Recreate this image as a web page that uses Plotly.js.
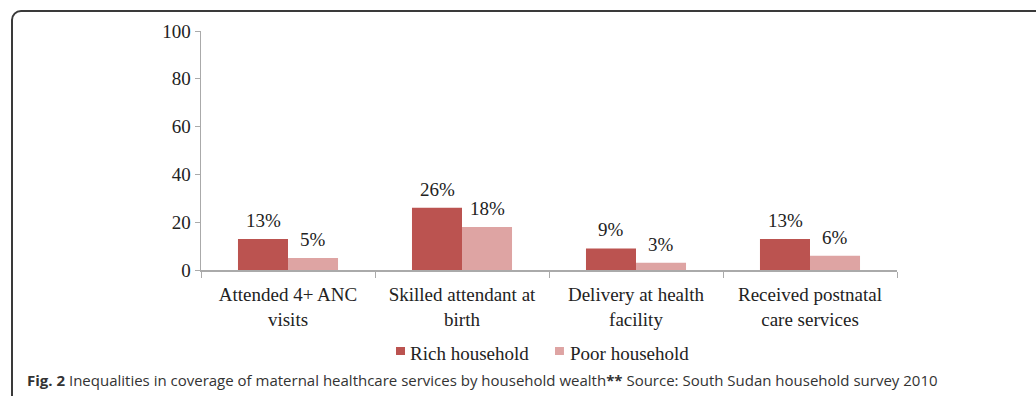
<!DOCTYPE html>
<html>
<head>
<meta charset="utf-8">
<script src="https://cdn.plot.ly/plotly-3.0.1.min.js"></script>
<style>
  html, body { margin:0; padding:0; background:#fff; overflow:hidden; }
  #frame { position:absolute; left:11px; top:10px; width:1100px; height:500px; border:2px solid #3a3a3a; border-radius:10px; box-sizing:border-box; }
  #chart { position:absolute; left:0; top:0; width:1036px; height:396px; }
</style>
</head>
<body>
<div id="frame"></div>
<div id="chart"></div>
<script>
const categories = ["Attended 4+ ANC<br>visits", "Skilled attendant at<br>birth", "Delivery at health<br>facility", "Received postnatal<br>care services"];
const richValues = [13, 26, 9, 13];
const poorValues = [5, 18, 3, 6];
const seriesNames = ["Rich household", "Poor household"];
const yTicks = [0, 20, 40, 60, 80, 100];
const captionText = "<b>Fig. 2</b> Inequalities in coverage of maternal healthcare services by household wealth<b>**</b> Source: South Sudan household survey 2010";

const seriesColors = ["#bb5350", "#dea4a3"];
const serif = "Liberation Serif, Times New Roman, serif";

const traces = [
  { type: "bar", name: seriesNames[0], x: categories, y: richValues, marker: { color: seriesColors[0] }, hoverinfo: "none", showlegend: false },
  { type: "bar", name: seriesNames[1], x: categories, y: poorValues, marker: { color: seriesColors[1] }, hoverinfo: "none", showlegend: false }
];

const annotations = [];
categories.forEach((c, i) => {
  annotations.push({ x: c, y: richValues[i], xref: "x", yref: "y", text: richValues[i] + "%", showarrow: false,
    xshift: -25, yanchor: "bottom", yshift: 6, font: { family: serif, size: 19, color: "#222" } });
  annotations.push({ x: c, y: poorValues[i], xref: "x", yref: "y", text: poorValues[i] + "%", showarrow: false,
    xshift: 25, yanchor: "bottom", yshift: 6, font: { family: serif, size: 19, color: "#222" } });
});
annotations.push({ xref: "paper", yref: "paper", x: -0.2529, y: -0.46, xanchor: "left", yanchor: "middle",
  text: captionText, showarrow: false, font: { family: "Open Sans, sans-serif", size: 15, color: "#333" } });

// manual legend (small squares close to the labels, as in the reference)
const legendSquareX = [0.2802, 0.5086];
const legendTextX = [0.2974, 0.5273];
const shapes = [];
seriesNames.forEach((n, i) => {
  shapes.push({ type: "rect", xref: "paper", yref: "paper", x0: legendSquareX[i], x1: legendSquareX[i] + 0.0129,
    y0: -0.3556, y1: -0.3222, fillcolor: seriesColors[i], line: { width: 0 } });
  annotations.push({ xref: "paper", yref: "paper", x: legendTextX[i], y: -0.3473, xanchor: "left", yanchor: "middle",
    text: n, showarrow: false, font: { family: serif, size: 19, color: "#222" } });
});

const layout = {
  width: 1036, height: 396,
  margin: { l: 201, r: 139, t: 31, b: 126 },
  paper_bgcolor: "rgba(0,0,0,0)", plot_bgcolor: "rgba(0,0,0,0)",
  barmode: "group", bargap: 0.425, bargroupgap: 0,
  showlegend: false,
  xaxis: { showline: true, linecolor: "#aaaaaa", linewidth: 1.5, ticks: "outside", tickson: "boundaries",
    ticklen: 6, tickcolor: "#aaaaaa", ticklabelstandoff: 7, tickfont: { family: serif, size: 19, color: "#222" }, showgrid: false, fixedrange: true },
  yaxis: { range: [0, 100], tickvals: yTicks, showline: true, linecolor: "#aaaaaa", linewidth: 1.5, ticks: "outside",
    ticklen: 5, tickcolor: "#aaaaaa", tickfont: { family: serif, size: 19, color: "#222" }, showgrid: false, zeroline: false, fixedrange: true },
  shapes: shapes,
  annotations: annotations
};

Plotly.newPlot("chart", traces, layout, { displayModeBar: false, staticPlot: true });
</script>
</body>
</html>
